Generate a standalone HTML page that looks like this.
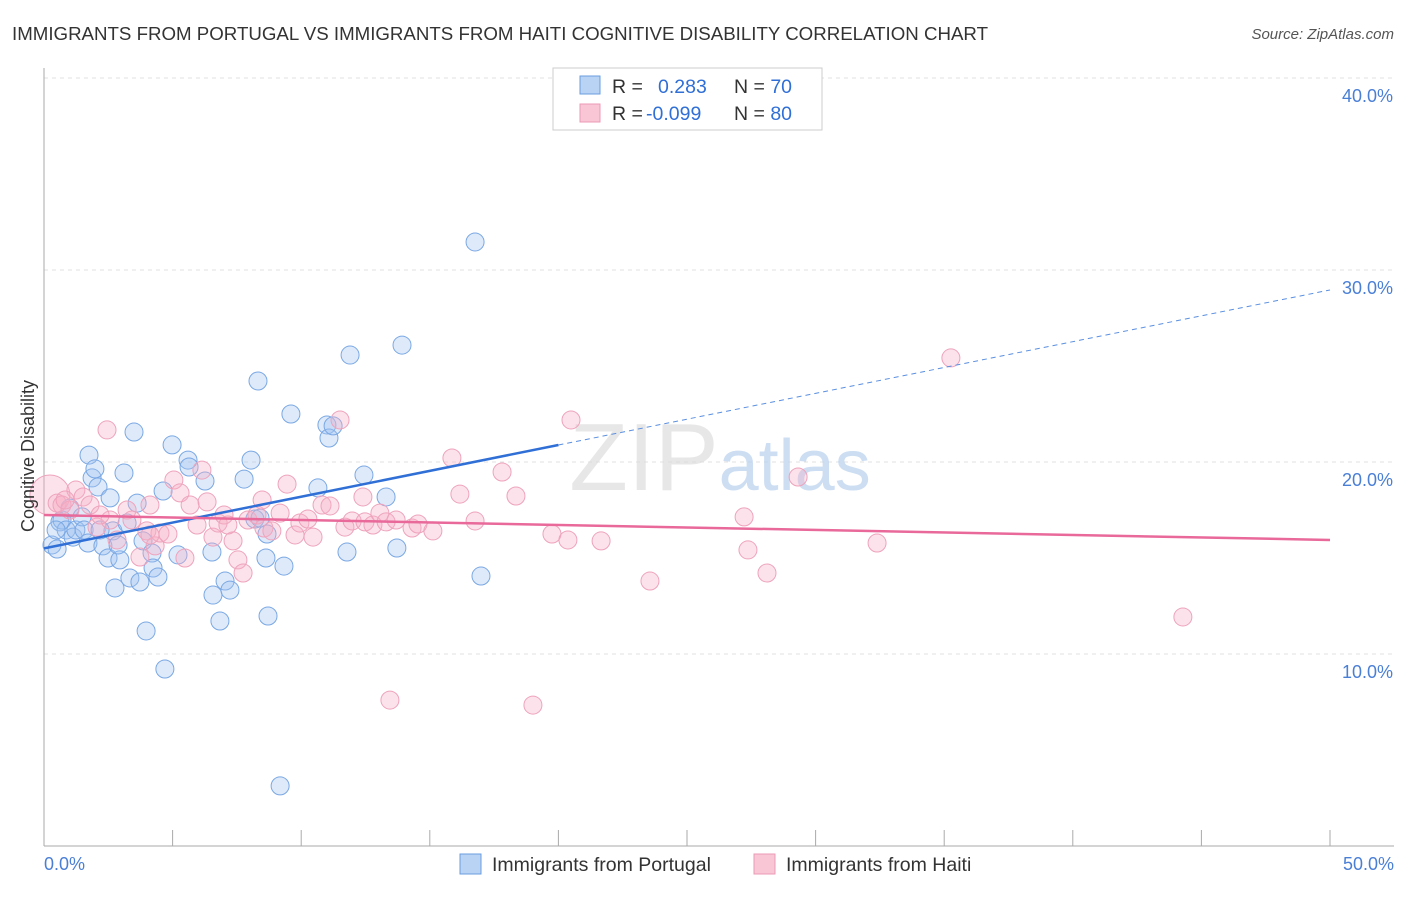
<!DOCTYPE html>
<html><head><meta charset="utf-8"><style>
body{margin:0;background:#fff;font-family:"Liberation Sans",sans-serif;}
svg text{font-family:"Liberation Sans",sans-serif;}
</style></head><body>
<svg id="chart" width="1406" height="892" xmlns="http://www.w3.org/2000/svg">
<text x="12" y="40" font-size="18.7" fill="#333" textLength="976">IMMIGRANTS FROM PORTUGAL VS IMMIGRANTS FROM HAITI COGNITIVE DISABILITY CORRELATION CHART</text>
<text x="1394" y="39" font-size="15" fill="#555" text-anchor="end" font-style="italic">Source: ZipAtlas.com</text>
<g id="grid"></g>
<text x="720" y="490" font-size="96" text-anchor="middle" font-family="Liberation Serif" fill="#ddd" fill-opacity="0.7">ZIP<tspan fill="#b8d0ee" font-family="Liberation Sans" font-size="72">atlas</tspan></text>
<g id="pts"></g>
<g id="trends"></g>
<text transform="translate(34,456) rotate(-90)" font-size="18" fill="#333" text-anchor="middle">Cognitive Disability</text>
<text x="44" y="870" font-size="18" fill="#4a7fd6">0.0%</text>
<text x="1394" y="870" font-size="18" fill="#4a7fd6" text-anchor="end">50.0%</text>
<g>
<rect x="553" y="68" width="269" height="62" fill="#fff" stroke="#ccc"/>
<rect x="580" y="76" width="20" height="18" fill="#b9d3f5" stroke="#6a9ee0"/>
<rect x="580" y="104" width="20" height="18" fill="#f9c6d6" stroke="#ec9ab5"/>
<text x="612" y="93" font-size="19.5" fill="#333">R = <tspan fill="#2f6fd6" x="658">0.283</tspan><tspan x="734">N = </tspan><tspan fill="#2f6fd6">70</tspan></text>
<text x="612" y="120" font-size="19.5" fill="#333">R = <tspan fill="#2f6fd6" x="646">-0.099</tspan><tspan x="734">N = </tspan><tspan fill="#2f6fd6">80</tspan></text>
</g>
<g>
<rect x="460" y="854" width="21" height="20" fill="#b9d3f5" stroke="#6a9ee0"/>
<text x="492" y="871" font-size="19.5" fill="#333">Immigrants from Portugal</text>
<rect x="754" y="854" width="21" height="20" fill="#f9c6d6" stroke="#ec9ab5"/>
<text x="786" y="871" font-size="19.5" fill="#333">Immigrants from Haiti</text>
</g>
</svg>
<script>
const yTicks=[10,20,30,40];
const yTickLabels=["10.0%","20.0%","30.0%","40.0%"];
const xTicks=[0,5,10,15,20,25,30,35,40,45,50];
const blueX=[0.31,0.51,0.62,0.70,0.86,1.01,1.13,1.24,1.48,1.56,1.71,1.75,1.87,1.98,2.10,2.29,2.49,2.57,2.68,2.76,2.95,3.11,3.23,3.34,3.50,3.62,3.73,3.85,3.97,4.20,4.24,4.43,4.63,4.70,4.98,5.21,5.60,5.64,6.26,6.53,6.57,6.84,7.04,7.23,7.78,8.05,8.32,8.20,8.63,8.67,8.71,9.18,9.33,9.60,10.65,11.00,11.08,11.24,11.78,11.90,12.44,13.30,13.72,13.92,16.76,16.99,8.40,0.47,2.18,2.88];
const blueY=[15.68,15.47,16.88,16.98,16.46,17.60,16.09,16.46,17.14,16.46,15.78,20.36,19.17,19.64,18.70,15.63,15.00,18.13,16.41,13.44,14.90,19.43,16.82,13.96,21.56,17.86,13.75,15.89,11.20,15.26,14.48,14.01,18.49,9.22,20.89,15.16,20.10,19.74,19.01,15.31,13.07,11.72,13.80,13.33,19.11,20.10,24.22,17.03,15.00,16.25,11.98,3.13,14.58,22.50,18.65,21.93,21.25,21.88,15.31,25.57,19.32,18.18,15.52,26.09,31.46,14.06,17.08,16.46,16.46,15.68];
const pinkX=[0.23,0.51,0.70,1.01,1.24,1.52,2.06,2.45,2.84,3.23,3.42,3.73,4.00,4.32,4.51,4.82,5.05,5.29,5.48,5.68,5.95,6.14,6.34,6.57,6.77,7.00,7.35,7.54,7.74,7.93,8.28,8.48,8.55,8.86,9.18,9.45,9.76,9.95,10.26,10.46,10.81,11.12,11.51,11.70,11.98,12.40,12.48,12.79,13.06,13.30,13.45,13.69,14.31,14.54,15.12,15.86,16.17,16.76,17.81,18.35,19.01,19.75,20.37,20.49,21.66,23.56,27.22,27.37,28.11,29.32,32.39,35.26,44.28,7.15,4.12,2.57,1.79,0.82,2.18,4.12];
const pinkY=[18.28,17.86,17.76,17.50,18.54,18.18,16.61,21.67,15.94,17.50,16.98,15.05,16.41,15.63,16.30,16.25,19.06,18.39,15.00,17.76,16.72,19.58,17.92,16.09,16.82,17.24,15.89,14.90,14.22,16.98,17.24,18.02,16.56,16.41,17.34,18.85,16.20,16.82,17.03,16.09,17.76,17.71,22.19,16.61,16.93,18.18,16.88,16.72,17.34,16.88,7.60,16.98,16.56,16.77,16.41,20.21,18.33,16.93,19.48,18.23,7.34,16.25,15.94,22.19,15.89,13.80,17.14,15.42,14.22,19.22,15.78,25.42,11.93,16.72,17.76,16.98,17.76,18.02,17.24,16.20];
const blueTrend=[15.5,28.96];
const pinkTrend=[17.24,15.94];
const NS="http://www.w3.org/2000/svg";
const X0=44,X1=1330,Y0=846,PX=19.2;
const sx=v=>X0+(v/50)*(X1-X0);
const sy=v=>Y0-v*PX;
function mk(t,a,p){const e=document.createElementNS(NS,t);for(const k in a)e.setAttribute(k,a[k]);p.appendChild(e);return e;}
const grid=document.getElementById('grid');
yTicks.forEach((t,i)=>{
 const l=mk('line',{x1:X0,x2:1394,y1:sy(t),y2:sy(t),stroke:'#e2e2e2','stroke-dasharray':'4,4'},grid);
 
 
 const tx=mk('text',{x:1393,y:sy(t)+24,'font-size':18,fill:'#4a7fd6','text-anchor':'end'},grid);
 tx.textContent=yTickLabels[i];
 
 
});
const ax=mk('line',{x1:X0,x2:X0,y1:68,y2:Y0,stroke:'#aaa'},grid);


const bx=mk('line',{x1:X0,x2:1394,y1:Y0,y2:Y0,stroke:'#aaa'},grid);


xTicks.forEach(t=>{
 const l=mk('line',{x1:sx(t),x2:sx(t),y1:Y0-16,y2:Y0,stroke:'#aaa'},grid);
 
 
});
const pts=document.getElementById('pts');
blueX.forEach((v,i)=>{
 const c=mk('circle',{cx:sx(v),cy:sy(blueY[i]),r:9,fill:'rgba(160,196,240,0.35)',stroke:'#7aa8e4','stroke-width':1},pts);
 
 
});
pinkX.forEach((v,i)=>{
 const c=mk('circle',{cx:sx(v),cy:sy(pinkY[i]),r:i==0?20:9,fill:'rgba(245,175,198,0.35)',stroke:'#eea3bc','stroke-width':1},pts);
 
 
});
const tr=document.getElementById('trends');
const bAt=x=>blueTrend[0]+(blueTrend[1]-blueTrend[0])*x/50;
let l1=mk('line',{x1:sx(0),y1:sy(bAt(0)),x2:sx(20),y2:sy(bAt(20)),stroke:'#2f6fd6','stroke-width':2.5},tr);


let l2=mk('line',{x1:sx(20),y1:sy(bAt(20)),x2:sx(50),y2:sy(bAt(50)),stroke:'#5a8fe0','stroke-width':1,'stroke-dasharray':'5,4'},tr);


let l3=mk('line',{x1:sx(0),y1:sy(pinkTrend[0]),x2:sx(50),y2:sy(pinkTrend[1]),stroke:'#e8699a','stroke-width':2.5},tr);


</script>
</body></html>
